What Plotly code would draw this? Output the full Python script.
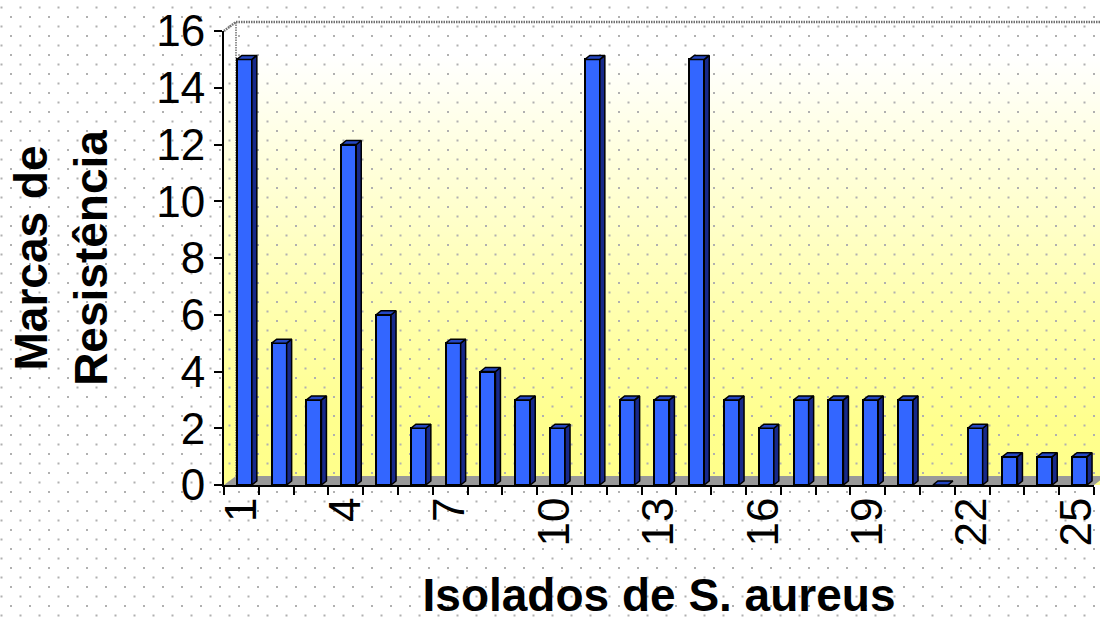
import base64
import plotly.graph_objects as go

# ---- data ----
categories = list(range(1, 26))
values = [15, 5, 3, 12, 6, 2, 5, 4, 3, 2, 15, 3, 3, 15, 3, 2, 3, 3, 3, 3, 0, 2, 1, 1, 1]
x_tick_vals = [1, 4, 7, 10, 13, 16, 19, 22, 25]
x_tick_text = [str(v) for v in x_tick_vals]
y_tick_vals = [0, 2, 4, 6, 8, 10, 12, 14, 16]
x_title = "Isolados de S. aureus"
y_title = "Marcas de<br>Resistência"

# ---- layout geometry ----
W, H = 1100, 621
ML, MR, MT, MB = 224, 6, 31, 136
PW, PH = W - ML - MR, H - MT - MB
X_RANGE = [0.5, 25.5]
Y_RANGE = [0, 16]
WX, WY = 12, 9          # depth of the 3D walls (px)
BAR_W, BAR_OFF = 0.43, -0.13
DX = 5 / (PW / (X_RANGE[1] - X_RANGE[0]))
DY = 4 / (PH / (Y_RANGE[1] - Y_RANGE[0]))

FONT = "Liberation Sans, Arial, sans-serif"
BLUE, SIDE, TOP = "#3366FF", "#17298A", "#2447C4"

# ---- 3D faces of bars, built from values ----
side_x, side_y, top_x, top_y = [], [], [], []
for c, v in zip(categories, values):
    x0 = c + BAR_OFF
    x1 = x0 + BAR_W
    side_x += [x1, x1 + DX, x1 + DX, x1, x1, None]
    side_y += [0, DY, v + DY, v, 0, None]
    top_x += [x0, x0 + DX, x1 + DX, x1, x0, None]
    top_y += [v, v + DY, v + DY, v, v, None]

# ---- background (walls, floor, dotted pattern) ----
px0, px1, py0, py1 = ML, W - MR, MT, H - MB
gy0, gy1 = py0 - WY, py1
def off(py):
    return (py - gy0) / (gy1 - gy0)
svg = f'''<svg xmlns="http://www.w3.org/2000/svg" width="{W}" height="{H}" viewBox="0 0 {W} {H}">
<defs>
<linearGradient id="g" gradientUnits="userSpaceOnUse" x1="0" y1="{gy0}" x2="0" y2="{gy1}">
<stop offset="0" stop-color="#FFFFFF"/>
<stop offset="{off(55):.3f}" stop-color="#FFFFFF"/>
<stop offset="{off(250):.3f}" stop-color="#FFFFC0"/>
<stop offset="{off(420):.3f}" stop-color="#FFFF8E"/>
<stop offset="1" stop-color="#FFFF8A"/>
</linearGradient>
<pattern id="d" width="19" height="19" patternUnits="userSpaceOnUse">
<rect x="0.5" y="6.5" width="2" height="2" fill="#B0B0B0"/>
<rect x="10" y="16" width="2" height="2" fill="#B0B0B0"/>
</pattern>
</defs>
<rect x="0" y="0" width="{W}" height="{H}" fill="#FFFFFF"/>
<polygon points="{px0},{py0} {px0 + WX},{py0 - WY} {W},{py0 - WY} {W},{py1} {px0},{py1}" fill="url(#g)"/>
<rect x="0" y="0" width="{W}" height="{H}" fill="url(#d)"/>
<polygon points="{px0},{py1} {px1},{py1} {px1 + WX},{py1 - WY} {px0 + WX},{py1 - WY}" fill="#999999"/>
<polyline points="{px0},{py0} {px0 + WX},{py0 - WY} {W},{py0 - WY}" fill="none" stroke="#707070" stroke-width="2.5" stroke-dasharray="1.5,1"/>
<line x1="{px0 + WX}" y1="{py0 - WY}" x2="{px0 + WX}" y2="{py1 - WY}" stroke="#707070" stroke-width="1.5" stroke-dasharray="1.5,1"/>
</svg>'''
bg_src = "data:image/svg+xml;base64," + base64.b64encode(svg.encode("utf-8")).decode("ascii")

fig = go.Figure()
fig.add_trace(go.Scatter(x=side_x, y=side_y, fill="toself", fillcolor=SIDE, mode="lines",
                         line=dict(color="black", width=1.5), hoverinfo="skip", showlegend=False))
fig.add_trace(go.Scatter(x=top_x, y=top_y, fill="toself", fillcolor=TOP, mode="lines",
                         line=dict(color="black", width=1.5), hoverinfo="skip", showlegend=False))
fig.add_trace(go.Bar(x=categories, y=values, width=BAR_W, offset=BAR_OFF,
                     marker=dict(color=BLUE, line=dict(color="black", width=2)),
                     showlegend=False))

fig.update_layout(
    width=W, height=H,
    margin=dict(l=ML, r=MR, t=MT, b=MB, pad=0),
    paper_bgcolor="white", plot_bgcolor="rgba(0,0,0,0)",
    font=dict(family=FONT, color="black"),
    images=[dict(source=bg_src, xref="paper", yref="paper",
                 x=-ML / PW, y=1 + MT / PH, sizex=W / PW, sizey=H / PH,
                 xanchor="left", yanchor="top", sizing="stretch", layer="below")],
    bargap=0,
)
fig.update_xaxes(
    range=X_RANGE, showgrid=False, zeroline=False, automargin=False,
    showline=True, linecolor="black", linewidth=2,
    tickmode="array", tickvals=x_tick_vals, ticktext=x_tick_text,
    ticks="", tickangle=-90, ticklabelstandoff=-7,
    tickfont=dict(size=44, family=FONT, color="black"),
    minor=dict(tickmode="array", tickvals=[c - 0.5 for c in categories] + [categories[-1] + 0.5],
               ticks="outside", ticklen=8, tickwidth=2, tickcolor="black"),
    title=dict(text=x_title, font=dict(size=46, family=FONT, weight="bold"), standoff=36),
)
fig.update_yaxes(
    range=Y_RANGE, showgrid=False, zeroline=False, automargin=False,
    showline=True, linecolor="black", linewidth=2,
    tickmode="array", tickvals=y_tick_vals,
    ticks="outside", ticklen=8, tickwidth=2, tickcolor="black", ticklabelstandoff=0,
    tickfont=dict(size=44, family=FONT, color="black"),
    title=dict(text=y_title, font=dict(size=46, family=FONT, weight="bold"), standoff=34),
)

fig.write_html("out.html", config={"displayModeBar": False},
               post_script="document.body.style.margin='0';document.body.style.padding='0';")
